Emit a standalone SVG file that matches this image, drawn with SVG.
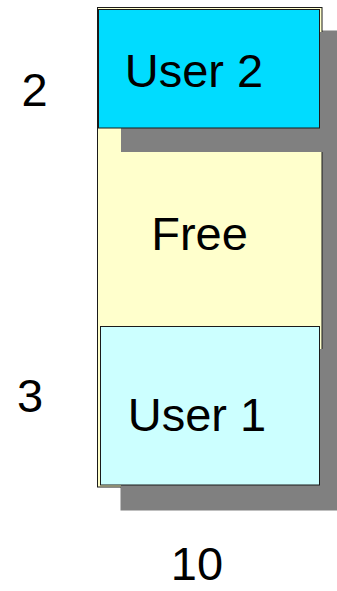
<svg xmlns="http://www.w3.org/2000/svg" width="337" height="591" viewBox="0 0 337 591">
<style>
  .lbl { font-family: "Liberation Sans", Arial, Helvetica, sans-serif; font-size: 47px; fill: #000; text-anchor: middle; }
  .shadow { fill: #808080; }
  .box { stroke: #1a1a1a; stroke-width: 1; }
</style>
<rect width="337" height="591" fill="#ffffff"/>
<g id="free">
  <rect class="shadow" x="120.5" y="30.5" width="224" height="480"/>
  <rect class="box" x="97.5" y="7.5" width="224.5" height="479.5" fill="#ffffcc"/>
  <text class="lbl" x="199.5" y="250">Free</text>
</g>
<g id="user2">
  <rect class="shadow" x="121" y="32" width="222" height="120"/>
  <rect class="box" x="98.5" y="9.5" width="221" height="118.5" fill="#00dcff"/>
  <text class="lbl" x="194" y="87">User 2</text>
</g>
<g id="user1">
  <rect class="shadow" x="121" y="349" width="222" height="161"/>
  <rect class="box" x="100.5" y="326.5" width="219" height="158.5" fill="#ccffff"/>
  <text class="lbl" x="197" y="431">User 1</text>
</g>
<g id="labels">
  <text class="lbl" x="34.5" y="106">2</text>
  <text class="lbl" x="30" y="412">3</text>
  <text class="lbl" x="197" y="580">10</text>
</g>
<g id="connectors"></g>
</svg>
